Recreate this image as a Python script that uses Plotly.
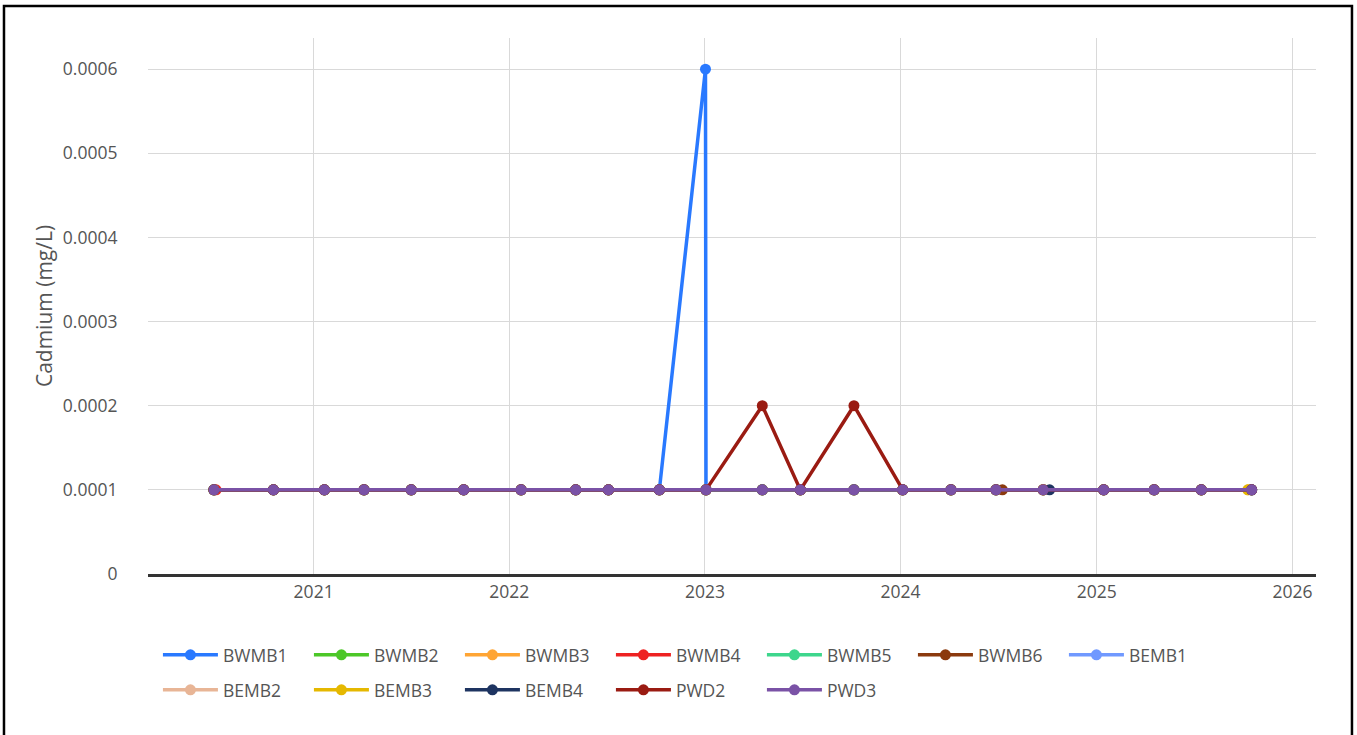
import plotly.graph_objects as go

# ---- data ----
series_names = ["BWMB1", "BWMB2", "BWMB3", "BWMB4", "BWMB5", "BWMB6",
                "BEMB1", "BEMB2", "BEMB3", "BEMB4", "PWD2", "PWD3"]
series_colors = ["#2979FF", "#4CC728", "#FFA534", "#EE2222", "#3DD68C", "#8B3A0E",
                 "#7099FF", "#E8B596", "#E5B800", "#1E3461", "#9A1B12", "#7A52A6"]

dates_main = ["2020-06-29", "2020-10-18", "2021-01-21", "2021-04-05", "2021-07-02",
              "2021-10-08", "2022-01-23", "2022-05-05", "2022-07-05", "2022-10-08",
              "2023-01-03", "2023-04-18", "2023-06-28", "2023-10-06", "2024-01-05",
              "2024-04-04", "2024-06-27", "2024-09-23", "2025-01-14", "2025-04-18",
              "2025-07-15", "2025-10-17"]
dates_bwmb1 = ["2020-06-29", "2020-10-18", "2021-01-21", "2021-04-05", "2021-07-02",
               "2021-10-08", "2022-01-23", "2022-05-05", "2022-07-05", "2022-10-08",
               "2023-01-02", "2023-01-03", "2023-04-18", "2023-06-28", "2023-10-06",
               "2024-01-05", "2024-04-04", "2024-06-27", "2024-09-23", "2025-01-14",
               "2025-04-18", "2025-07-15", "2025-10-17"]
dates_bwmb3 = ["2020-06-29", "2020-10-18", "2021-01-21", "2021-04-05", "2021-07-02",
               "2021-10-08", "2022-01-23", "2022-05-05", "2022-07-05", "2022-10-08",
               "2023-01-03", "2023-04-18", "2023-06-28", "2023-10-06", "2024-01-05",
               "2024-04-04", "2024-06-27", "2024-09-23", "2025-01-14", "2025-04-18",
               "2025-07-15", "2025-10-10"]
dates_bwmb4 = ["2020-07-03", "2020-10-18", "2021-01-21", "2021-04-05", "2021-07-02",
               "2021-10-08", "2022-01-23", "2022-05-05", "2022-07-05", "2022-10-08",
               "2023-01-03", "2023-04-18", "2023-06-28", "2023-10-06", "2024-01-05",
               "2024-04-04", "2024-06-27", "2024-09-23", "2025-01-14", "2025-04-18",
               "2025-07-15", "2025-10-17"]
dates_bwmb6 = ["2020-06-29", "2020-10-18", "2021-01-21", "2021-04-05", "2021-07-02",
               "2021-10-08", "2022-01-23", "2022-05-05", "2022-07-05", "2022-10-08",
               "2023-01-03", "2023-04-18", "2023-06-28", "2023-10-06", "2024-01-05",
               "2024-04-04", "2024-07-09", "2024-09-23", "2025-01-14", "2025-04-18",
               "2025-07-15", "2025-10-17"]
dates_bemb4 = ["2020-06-29", "2020-10-18", "2021-01-21", "2021-04-05", "2021-07-02",
               "2021-10-08", "2022-01-23", "2022-05-05", "2022-07-05", "2022-10-08",
               "2023-01-03", "2023-04-18", "2023-06-28", "2023-10-06", "2024-01-05",
               "2024-04-04", "2024-06-27", "2024-10-05", "2025-01-14", "2025-04-18",
               "2025-07-15", "2025-10-17"]

vals_flat = [0.0001, 0.0001, 0.0001, 0.0001, 0.0001, 0.0001, 0.0001, 0.0001, 0.0001, 0.0001,
             0.0001, 0.0001, 0.0001, 0.0001, 0.0001, 0.0001, 0.0001, 0.0001, 0.0001, 0.0001,
             0.0001, 0.0001]
vals_bwmb1 = [0.0001, 0.0001, 0.0001, 0.0001, 0.0001, 0.0001, 0.0001, 0.0001, 0.0001, 0.0001,
              0.0006, 0.0001, 0.0001, 0.0001, 0.0001, 0.0001, 0.0001, 0.0001, 0.0001, 0.0001,
              0.0001, 0.0001, 0.0001]
vals_pwd2 = [0.0001, 0.0001, 0.0001, 0.0001, 0.0001, 0.0001, 0.0001, 0.0001, 0.0001, 0.0001,
             0.0001, 0.0002, 0.0001, 0.0002, 0.0001, 0.0001, 0.0001, 0.0001, 0.0001, 0.0001,
             0.0001, 0.0001]

series_dates = [dates_bwmb1, dates_main, dates_bwmb3, dates_bwmb4, dates_main, dates_bwmb6,
                dates_main, dates_main, dates_bwmb3, dates_bemb4, dates_main, dates_main]
series_values = [vals_bwmb1, vals_flat, vals_flat, vals_flat, vals_flat, vals_flat,
                 vals_flat, vals_flat, vals_flat, vals_flat, vals_pwd2, vals_flat]

y_tickvals = [0, 0.0001, 0.0002, 0.0003, 0.0004, 0.0005, 0.0006]
y_ticktext = ["0", "0.0001", "0.0002", "0.0003", "0.0004", "0.0005", "0.0006"]

FONT = "Open Sans"
TXT = "#555555"

fig = go.Figure()
for i, (name, color, xs, ys) in enumerate(zip(series_names, series_colors,
                                               series_dates, series_values)):
    fig.add_trace(go.Scatter(
        x=xs, y=ys, name=name, mode="lines+markers",
        line=dict(color=color, width=3.5),
        marker=dict(color=color, size=11),
        legend="legend" if i < 7 else "legend2",
    ))

legend_common = dict(
    orientation="h", xanchor="left", yanchor="middle",
    font=dict(family=FONT, size=17.5, color=TXT),
    entrywidth=81, entrywidthmode="pixels",
    bgcolor="rgba(0,0,0,0)", itemwidth=55, traceorder="normal",
)

fig.update_layout(
    width=1357, height=735,
    margin=dict(l=148, r=41, t=38, b=161),
    paper_bgcolor="white", plot_bgcolor="white",
    font=dict(family=FONT, color=TXT),
    showlegend=True,
    legend=dict(x=0.0085, y=-0.151, **legend_common),
    legend2=dict(x=0.0085, y=-0.2164, **legend_common),
    xaxis=dict(
        type="date", range=["2020-02-27", "2026-02-14"],
        dtick="M12", tick0="2021-01-01", tickformat="%Y",
        showgrid=True, gridcolor="#d9d9d9", gridwidth=1,
        showline=True, linecolor="#333333", linewidth=2.5,
        ticks="", tickfont=dict(family=FONT, size=17.5, color=TXT),
        zeroline=False,
    ),
    yaxis=dict(
        range=[0, 0.000637],
        tickvals=y_tickvals, ticktext=y_ticktext,
        showgrid=True, gridcolor="#d9d9d9", gridwidth=1,
        showline=False, zeroline=False,
        ticks="outside", ticklen=26, tickcolor="rgba(0,0,0,0)",
        tickfont=dict(family=FONT, size=17.5, color=TXT),
        title=dict(text="Cadmium (mg/L)", font=dict(family=FONT, size=21, color=TXT),
                   standoff=4),
    ),
    shapes=[dict(type="rect", xref="paper", yref="paper",
                 x0=-0.1233, x1=1.0308, y0=-0.33, y1=1.0597,
                 line=dict(color="black", width=2.5), fillcolor="rgba(0,0,0,0)",
                 layer="above")],
)

fig.write_html("out.html", config={"displayModeBar": False},
               post_script="document.body.style.margin='0';")
